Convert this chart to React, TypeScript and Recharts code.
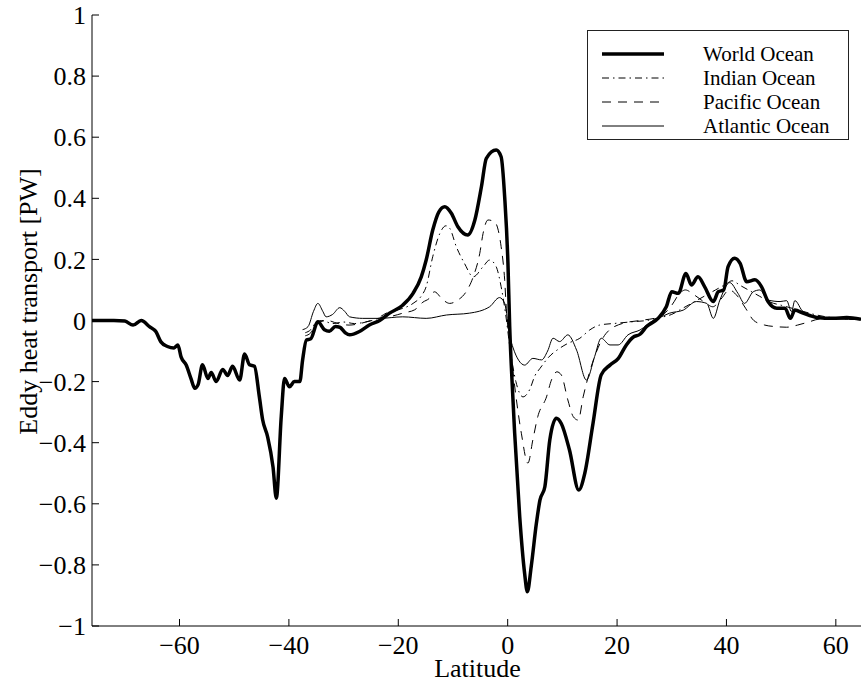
import { LineChart, Line, XAxis, YAxis, Legend, Label } from 'recharts';

// latitude / eddy heat transport [PW]
const worldLat = [
  -76, -74, -72, -70, -68.5, -67, -65.5, -64.3, -63.4, -62.2, -61, -60.3, -59.7, -58.8, -57.9, -57.2, -56.6,
  -55.8, -54.8, -54.2, -53.3, -52.1, -51.2, -50.3, -49, -48.1, -47.2, -46.3, -45.4, -44.8, -43.9, -42.9,
  -42.3, -41.4, -40.8, -39.9, -39, -38, -37.5, -36.8, -36, -34.7, -33.5, -32.6, -31.5, -30.7, -29.7, -28.9,
  -27.1, -25.3, -23.4, -21.6, -19.2, -17.3, -15.8, -14.9, -13.7, -12.6, -11.5, -10.3, -9.1, -7.3, -6, -4.8,
  -3.9, -2.1, -1.2, -0.55, 0.05, 0.37, 0.67, 1.28, 2.2, 3.1, 3.6, 4.3, 5.25, 5.9, 6.8, 7.7, 8.9, 9.8, 11.3,
  13, 14.1, 15.6, 17.1, 18.7, 20.2, 21.7, 22.9, 24.2, 25.4, 27.5, 29, 30, 31.2, 32.6, 33.6, 34.8, 36, 37.6,
  38.5, 39.5, 40.3, 41.5, 42.5, 43.7, 45.2, 46.4, 47.6, 49.2, 50.7, 51.7, 52.5, 54, 56.5, 59.5, 62, 64.6,
];
const worldVal = [
  0, 0, 0, -0.002, -0.015, 0, -0.02, -0.037, -0.07, -0.085, -0.09, -0.08, -0.12, -0.145, -0.19, -0.222, -0.21,
  -0.145, -0.19, -0.17, -0.2, -0.16, -0.18, -0.15, -0.195, -0.11, -0.145, -0.15, -0.25, -0.325, -0.38, -0.48,
  -0.582, -0.315, -0.19, -0.217, -0.2, -0.2, -0.13, -0.064, -0.06, -0.004, -0.03, -0.035, -0.02, -0.022, -0.04, -0.047,
  -0.036, -0.015, 0, 0.024, 0.05, 0.089, 0.143, 0.198, 0.296, 0.355, 0.372, 0.351, 0.307, 0.28, 0.329, 0.438,
  0.531, 0.558, 0.536, 0.405, 0.187, -0.02, -0.151, -0.369, -0.642, -0.828, -0.888, -0.806, -0.664, -0.588, -0.544, -0.391, -0.32, -0.337, -0.424,
  -0.555, -0.5, -0.337, -0.178, -0.146, -0.125, -0.08, -0.055, -0.045, -0.02, 0.007, 0.045, 0.094, 0.089, 0.154, 0.116, 0.143, 0.111, 0.062,
  0.094, 0.1, 0.176, 0.204, 0.187, 0.127, 0.133, 0.111, 0.062, 0.04, 0.04, 0.007, 0.034, 0.024, 0.01, 0.007, 0.01, 0.004,
];

const indianLat = [
  -37, -36, -35, -34, -32, -30, -28, -26, -24, -22.2, -20, -17.3, -15.8, -14.9, -13.7, -12.4, -11.3, -10.6,
  -9.4, -7.9, -6.3, -4.5, -3.3, -2.1, -1.2, -0.4, 0.5, 1.5, 2.8, 4, 5, 5.9, 7.5, 9.5, 11, 13.2, 15, 16.8,
  19.9, 22.9, 25.4, 28, 30, 32, 34, 36, 38, 40, 41, 42.5, 44, 46, 48, 50, 52, 54, 56, 59, 62, 64.6,
];
const indianVal = [
  -0.04, -0.03, -0.005, 0, -0.01, -0.005, -0.01, -0.005, 0.005, 0.024, 0.035, 0.056, 0.08, 0.111, 0.209, 0.285, 0.31, 0.302,
  0.242, 0.187, 0.143, 0.176, 0.198, 0.176, 0.111, 0.024, -0.1, -0.2, -0.25, -0.227, -0.18, -0.157, -0.12, -0.091, -0.075, -0.058, -0.031, -0.015,
  -0.009, -0.004, 0, 0.01, 0.02, 0.04, 0.06, 0.08, 0.1, 0.12, 0.13, 0.115, 0.1, 0.08, 0.06, 0.05, 0.04, 0.03, 0.02, 0.01, 0.005, 0.003,
];

const pacificLat = [
  -37, -36, -35, -33, -31, -29, -27, -25, -23, -21, -19, -17, -15.5, -14.3, -13.4, -11.8, -10.6, -9.1, -7.6,
  -6.3, -5.1, -4.5, -3.6, -2.4, -1.2, -0.55, -0.2, 0.3, 1, 2.5, 3.7, 4.6, 5.5, 7.1, 8, 9, 9.8, 11, 12, 12.9,
  13.8, 14.4, 15.9, 18, 21.1, 24.2, 27.8, 30, 31.5, 32.5, 34, 36, 37.5, 39, 40.5, 42, 43.5, 45, 47, 49, 51,
  53, 55, 57, 60, 64.6,
];
const pacificVal = [
  -0.05, -0.04, -0.01, 0, -0.01, -0.015, -0.01, 0, 0.01, 0.015, 0.025, 0.035, 0.06, 0.073, 0.094, 0.067, 0.056, 0.067, 0.094,
  0.143, 0.22, 0.285, 0.329, 0.323, 0.242, 0.133, 0.024, -0.06, -0.173, -0.369, -0.467, -0.391, -0.315, -0.25, -0.195, -0.168, -0.178, -0.26, -0.315, -0.326,
  -0.25, -0.206, -0.118, -0.042, -0.009, 0, 0.012, 0.05, 0.09, 0.1, 0.085, 0.06, 0.045, 0.07, 0.1, 0.08, 0.04, 0, -0.015, -0.02, -0.022,
  -0.015, -0.005, 0.005, 0.008, 0.005,
];

const atlanticLat = [
  -37.5, -36.5, -35.5, -34.7, -33.8, -33.2, -32, -30.7, -29.8, -28.9, -26.5, -23.4, -19.2, -14.9, -11.2, -7,
  -3.3, -1.5, -0.55, 0.4, 1, 2, 3.1, 4.6, 6.2, 7.3, 8.3, 9.5, 11, 12.6, 14.4, 15.9, 17.1, 18.7, 20.2, 22,
  24.2, 26.6, 27.5, 29.6, 32.1, 34.5, 36.4, 37.6, 38.8, 40.6, 42.1, 43.3, 44.9, 46.1, 47.6, 49.8, 51, 51.9,
  52.5, 54, 57.1, 60, 64.6,
];
const atlanticVal = [
  -0.03, -0.02, 0.03, 0.056, 0.03, 0.012, 0.02, 0.042, 0.03, 0.012, 0.007, 0.007, 0.012, 0.007, 0.018, 0.024,
  0.045, 0.075, 0.056, -0.053, -0.09, -0.13, -0.146, -0.124, -0.129, -0.1, -0.058, -0.069, -0.047, -0.097, -0.195, -0.118, -0.058, -0.08, -0.08, -0.047,
  -0.031, 0, 0.007, 0.024, 0.034, 0.062, 0.056, 0.007, 0.067, 0.124, 0.089, 0.056, 0.094, 0.1, 0.067, 0.062, 0.065, 0.029,
  0.065, 0.029, 0.01, 0.005, 0.003,
];

const xTicks = [-60, -40, -20, 0, 20, 40, 60];
const yTicks = [-1, -0.8, -0.6, -0.4, -0.2, 0, 0.2, 0.4, 0.6, 0.8, 1];

const toPoints = (lat: number[], val: number[]) => lat.map((x, i) => ({ lat: x, v: val[i] }));

const series = [
  { name: 'World Ocean', data: toPoints(worldLat, worldVal), width: 3.5, dash: undefined },
  { name: 'Indian Ocean', data: toPoints(indianLat, indianVal), width: 1, dash: '7 4 1.5 4' },
  { name: 'Pacific Ocean', data: toPoints(pacificLat, pacificVal), width: 1, dash: '9 7' },
  { name: 'Atlantic Ocean', data: toPoints(atlanticLat, atlanticVal), width: 1, dash: undefined },
];

const FONT = '"Liberation Serif", "Times New Roman", serif';
const fmt = (v: number) => String(Math.round(v * 10) / 10).replace('-', '\u2212');

const XTick = ({ x, y, payload }: any) => (
  <text x={x} y={y} dy="0.71em" textAnchor="middle" fontSize={26} fill="#000" style={{ fontFamily: FONT }}>
    {fmt(payload.value)}
  </text>
);

const YTick = ({ x, y, payload }: any) => (
  <text x={x} y={y} dy="0.35em" textAnchor="end" fontSize={26} fill="#000" style={{ fontFamily: FONT }}>
    {fmt(payload.value)}
  </text>
);

function LegendBox() {
  return (
    <svg width={262} height={110} style={{ display: 'block' }}>
      <rect x={0.5} y={0.5} width={261} height={109} fill="#fff" stroke="#222" strokeWidth={1} />
      {series.map((s, i) => {
        const cy = 24 + i * 24;
        return (
          <g key={s.name}>
            <line x1={15} x2={77} y1={cy} y2={cy} stroke="#000" strokeWidth={s.width} strokeDasharray={s.dash} />
            <text x={116} y={cy + 7} fontSize={21} fill="#000" style={{ fontFamily: FONT }}>
              {s.name}
            </text>
          </g>
        );
      })}
    </svg>
  );
}

export default function App() {
  return (
    <div style={{ position: 'absolute', left: 0, top: 0, background: '#fff', fontFamily: FONT }}>
      <LineChart width={861} height={685} margin={{ top: 15, right: 0, bottom: 0, left: 0 }}>
        <XAxis
          dataKey="lat"
          type="number"
          domain={[-76, 64.6]}
          allowDataOverflow
          ticks={xTicks}
          height={59}
          tickSize={-7}
          tickMargin={17}
          stroke="#000"
          tick={<XTick />}
        >
          <Label
            content={({ viewBox }: any) => (
              <text
                x={viewBox.x + viewBox.width / 2 + 1}
                y={viewBox.y + viewBox.height - 8}
                textAnchor="middle"
                fontSize={26}
                fill="#000"
                style={{ fontFamily: FONT }}
              >
                Latitude
              </text>
            )}
          />
        </XAxis>
        <XAxis
          xAxisId="top"
          orientation="top"
          dataKey="lat"
          type="number"
          domain={[-76, 64.6]}
          allowDataOverflow
          ticks={xTicks}
          height={0}
          tickSize={-7}
          tick={false}
          stroke="#000"
        />
        <YAxis
          type="number"
          domain={[-1, 1]}
          ticks={yTicks}
          width={92}
          tickSize={-7}
          tickMargin={13}
          stroke="#000"
          tick={<YTick />}
        >
          <Label
            content={({ viewBox }: any) => {
              const cx = viewBox.x + 28;
              const cy = viewBox.y + viewBox.height / 2 - 19;
              return (
                <text
                  x={cx}
                  y={cy}
                  transform={`rotate(-90, ${cx}, ${cy})`}
                  textAnchor="middle"
                  dominantBaseline="central"
                  fontSize={26}
                  fill="#000"
                  style={{ fontFamily: FONT }}
                >
                  Eddy heat transport [PW]
                </text>
              );
            }}
          />
        </YAxis>
        {[...series].reverse().map((s) => (
          <Line
            key={s.name}
            data={s.data}
            dataKey="v"
            name={s.name}
            type="monotone"
            stroke="#000"
            strokeWidth={s.width}
            strokeDasharray={s.dash}
            dot={false}
            activeDot={false}
            isAnimationActive={false}
          />
        ))}
        <Legend
          layout="vertical"
          align="center"
          verticalAlign="middle"
          wrapperStyle={{ position: 'absolute', left: 587, top: 30, width: 262, height: 110 }}
          content={() => <LegendBox />}
        />
      </LineChart>
    </div>
  );
}
